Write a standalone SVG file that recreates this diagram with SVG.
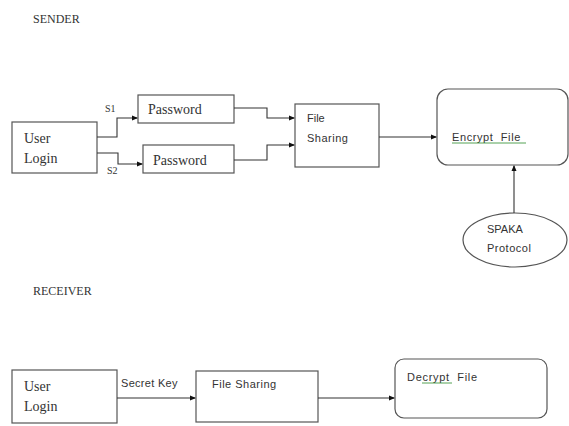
<svg xmlns="http://www.w3.org/2000/svg" width="569" height="426" viewBox="0 0 569 426">
<style>
.box{fill:#fff;stroke:#555;stroke-width:1.2}
.ser{font-family:"Liberation Serif",serif;fill:#333}
.sans{font-family:"Liberation Sans",sans-serif;fill:#333;font-size:11px}
.con{fill:none;stroke:#333;stroke-width:1.1}
.ul{stroke:#2a8a2a;stroke-width:0.8}
</style>
<defs>
<marker id="ah" markerWidth="6" markerHeight="6" refX="5" refY="3" orient="auto" markerUnits="userSpaceOnUse">
<path d="M0,0.5 L6,3 L0,5.5 Z" fill="#111"/>
</marker>
</defs>
<rect width="569" height="426" fill="#fff"/>
<text class="ser" x="33" y="23" font-size="12">SENDER</text>
<text class="ser" x="33" y="295" font-size="12">RECEIVER</text>

<g id="user-login-s">
<rect class="box" x="12" y="122" width="85" height="51"/>
<text class="ser" x="24" y="143" font-size="14">User</text>
<text class="ser" x="24" y="163" font-size="14">Login</text>
</g>
<g id="password1">
<rect class="box" x="138" y="95" width="96" height="28"/>
<text class="ser" x="148" y="114" font-size="14">Password</text>
</g>
<g id="password2">
<rect class="box" x="143" y="145" width="91" height="28"/>
<text class="ser" x="153" y="165" font-size="14">Password</text>
</g>
<g id="file-sharing-s">
<rect class="box" x="295" y="104" width="84" height="63"/>
<text class="sans" x="307" y="122">File</text>
<text class="sans" x="307" y="142" letter-spacing="0.5">Sharing</text>
</g>
<g id="encrypt">
<rect class="box" x="437" y="89" width="131" height="76" rx="11"/>
<text class="sans" x="452" y="141" xml:space="preserve" letter-spacing="0.6">Encrypt  File</text>
<line class="ul" x1="452" y1="143" x2="526" y2="143"/>
</g>
<g id="spaka">
<ellipse class="box" cx="515" cy="240" rx="52" ry="27"/>
<text class="sans" x="487" y="233" font-size="9.5">SPAKA</text>
<text class="sans" x="487" y="252" font-size="9.5" letter-spacing="0.5">Protocol</text>
</g>

<g id="user-login-r">
<rect class="box" x="12" y="370" width="105" height="53"/>
<text class="ser" x="24" y="391" font-size="14">User</text>
<text class="ser" x="24" y="411" font-size="14">Login</text>
</g>
<g id="file-sharing-r">
<rect class="box" x="196" y="371" width="122" height="51"/>
<text class="sans" x="212" y="388" font-size="11" letter-spacing="0.5">File Sharing</text>
</g>
<g id="decrypt">
<rect class="box" x="395" y="359" width="152" height="59" rx="9"/>
<text class="sans" x="407" y="381" xml:space="preserve" letter-spacing="0.7">Decrypt  File</text>
<line class="ul" x1="422" y1="383" x2="452" y2="383"/>
</g>

<g id="connectors">
<polyline class="con" points="97,137 117,137 117,118 137,118" marker-end="url(#ah)"/>
<polyline class="con" points="97,153 118,153 118,164 142,164" marker-end="url(#ah)"/>
<polyline class="con" points="234,108 267,108 267,118 294,118" marker-end="url(#ah)"/>
<polyline class="con" points="234,160 267,160 267,145 294,145" marker-end="url(#ah)"/>
<line class="con" x1="379" y1="137" x2="436" y2="137" marker-end="url(#ah)"/>
<line class="con" x1="514" y1="213" x2="514" y2="166" marker-end="url(#ah)"/>
<line class="con" x1="117" y1="398" x2="195" y2="398" marker-end="url(#ah)"/>
<line class="con" x1="318" y1="398" x2="394" y2="398" marker-end="url(#ah)"/>
<text class="ser" x="105" y="112" font-size="10">S1</text>
<text class="ser" x="107" y="174" font-size="10">S2</text>
<text class="sans" x="121" y="387" font-size="10" letter-spacing="0.3">Secret Key</text>
</g>
</svg>
